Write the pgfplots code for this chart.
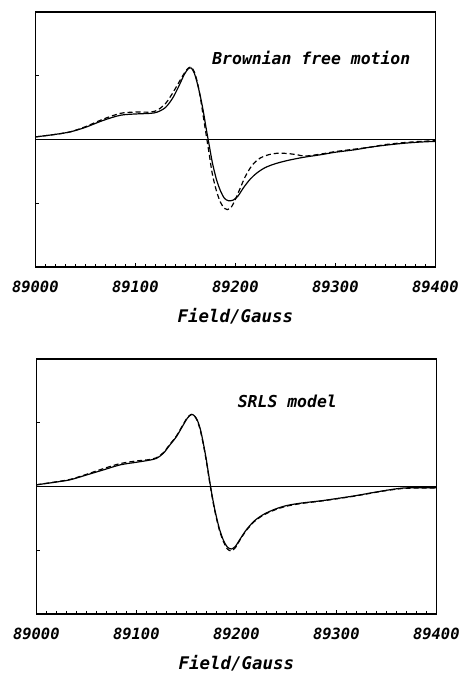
\documentclass[border=0pt]{standalone}
\usepackage{fontspec}
\usepackage{pgfplots}
\pgfplotsset{compat=1.18}
\newfontfamily\plotfont{DejaVu Sans Mono}
\begin{document}
\pgfplotsset{
  eprstyle/.style={
    scale only axis, width=400bp, height=255bp,
    xmin=89000, xmax=89400, ymin=-1, ymax=1,
    scaled x ticks=false,
    axis line style={line width=1.1pt},
    xtick={89000,89100,89200,89300,89400},
    minor x tick num=9,
    xticklabels={89000,89100,89200,89300,89400},
    ytick={-0.5,0.5}, yticklabels={},
    tick align=inside, xtick pos=bottom, ytick pos=left,
    major tick length=4bp, minor tick length=2.5bp,
    every tick/.style={black, line width=0.7pt},
    every minor tick/.style={black, line width=0.6pt},
    xticklabel style={font=\plotfont\bfseries\itshape\fontsize{15.5}{16}\selectfont, yshift=-11bp},
    xlabel={Field/Gauss},
    xlabel style={font=\plotfont\bfseries\itshape\fontsize{17.5}{18}\selectfont, inner sep=0pt, yshift=-12bp},
    clip=false,
  }
}
\begin{tikzpicture}[x=1bp,y=1bp]
\useasboundingbox (0,0) rectangle (464,676);
% top panel
\begin{axis}[eprstyle, at={(32bp,409bp)}, anchor=south west]
\addplot[black, line width=0.6pt] coordinates {(89000,0) (89400,0)};
\addplot[black, line width=1.2pt, smooth] coordinates {
(89000,0.02) (89020,0.04) (89035,0.06) (89050,0.095) (89068,0.15) (89085,0.19)
(89100,0.20) (89115,0.205) (89122,0.215) (89130,0.25) (89137,0.32) (89143,0.41)
(89149,0.51) (89153,0.555) (89156,0.56) (89159,0.52) (89162,0.44) (89165,0.34)
(89168,0.22) (89171,0.08) (89174,-0.05) (89177,-0.18) (89181,-0.31) (89185,-0.40)
(89189,-0.46) (89193,-0.48) (89198,-0.475) (89203,-0.44) (89208,-0.38) (89215,-0.31)
(89222,-0.26) (89230,-0.22) (89240,-0.19) (89252,-0.165) (89268,-0.14) (89285,-0.12)
(89300,-0.10) (89320,-0.08) (89335,-0.06) (89350,-0.045) (89368,-0.03) (89385,-0.02)
(89400,-0.015)};
\addplot[black, line width=1.2pt, smooth, dash pattern=on 5bp off 3bp] coordinates {
(89000,0.02) (89020,0.04) (89035,0.06) (89050,0.10) (89068,0.16) (89085,0.205)
(89100,0.215) (89115,0.215) (89122,0.23) (89130,0.28) (89137,0.36) (89143,0.44)
(89149,0.52) (89153,0.56) (89156,0.565) (89159,0.53) (89162,0.45) (89165,0.33)
(89168,0.18) (89171,0.03) (89174,-0.12) (89177,-0.27) (89181,-0.40) (89185,-0.49)
(89189,-0.54) (89192,-0.55) (89196,-0.53) (89200,-0.47) (89205,-0.38) (89210,-0.29)
(89217,-0.20) (89225,-0.145) (89233,-0.12) (89242,-0.108) (89252,-0.11) (89262,-0.12)
(89270,-0.13) (89285,-0.115) (89300,-0.095) (89320,-0.075) (89335,-0.06) (89350,-0.04)
(89368,-0.025) (89385,-0.015) (89400,-0.01)};
\node[font=\plotfont\bfseries\itshape\fontsize{16.5}{17}\selectfont] at (axis cs:89276,0.643) {Brownian free motion};
\end{axis}
% bottom panel
\begin{axis}[eprstyle, at={(33bp,62bp)}, anchor=south west]
\addplot[black, line width=0.6pt] coordinates {(89000,0) (89400,0)};
\addplot[black, line width=1.2pt, smooth] coordinates {
(89000,0.013) (89020,0.035) (89034,0.053) (89050,0.09) (89067,0.13) (89084,0.17)
(89100,0.19) (89112,0.205) (89120,0.22) (89127,0.26) (89133,0.32) (89140,0.39)
(89146,0.47) (89151,0.535) (89155,0.565) (89158,0.555) (89161,0.52) (89164,0.45)
(89167,0.34) (89170,0.21) (89173,0.06) (89176,-0.08) (89179,-0.20) (89183,-0.33)
(89187,-0.42) (89191,-0.475) (89195,-0.49) (89199,-0.47) (89204,-0.41) (89210,-0.34)
(89218,-0.27) (89227,-0.22) (89238,-0.18) (89250,-0.15) (89265,-0.13) (89284,-0.113)
(89300,-0.095) (89317,-0.075) (89335,-0.05) (89350,-0.03) (89367,-0.012) (89385,-0.01)
(89400,-0.01)};
\addplot[black, line width=1.2pt, smooth, dash pattern=on 5bp off 3bp] coordinates {
(89000,0.013) (89020,0.037) (89034,0.056) (89050,0.095) (89067,0.14) (89084,0.18)
(89100,0.20) (89112,0.21) (89120,0.225) (89127,0.265) (89133,0.325) (89140,0.395)
(89146,0.475) (89151,0.54) (89155,0.565) (89158,0.555) (89161,0.515) (89164,0.44)
(89167,0.33) (89170,0.20) (89173,0.05) (89176,-0.09) (89179,-0.21) (89183,-0.34)
(89187,-0.43) (89191,-0.49) (89195,-0.505) (89199,-0.48) (89204,-0.415) (89210,-0.345)
(89218,-0.275) (89227,-0.225) (89238,-0.185) (89250,-0.155) (89265,-0.133) (89284,-0.115)
(89300,-0.097) (89317,-0.077) (89335,-0.052) (89350,-0.032) (89367,-0.015) (89385,-0.012)
(89400,-0.012)};
\node[font=\plotfont\bfseries\itshape\fontsize{16.5}{17}\selectfont] at (axis cs:89251,0.67) {SRLS model};
\end{axis}
\end{tikzpicture}
\end{document}
